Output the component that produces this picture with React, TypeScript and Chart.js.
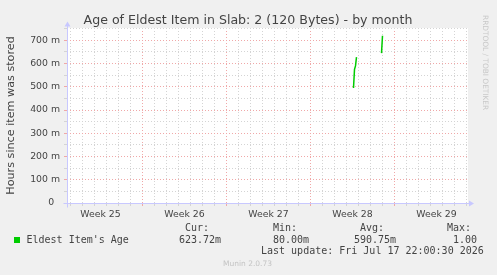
import React, { useEffect, useRef } from 'react';
import { Chart, registerables } from 'chart.js';

Chart.register(...registerables);

const TITLE = 'Age of Eldest Item in Slab: 2 (120 Bytes) - by month';
const Y_TITLE = 'Hours since item was stored';
const WEEK_LABELS = ['Week 25', 'Week 26', 'Week 27', 'Week 28', 'Week 29'];
const WEEK_LABEL_DAYS = [3.5, 10.5, 17.5, 24.5, 31.5];
const DAY_LINES = Array.from({ length: 34 }, (_, i) => i + 1);
const X_MIN = 0.708;
const X_MAX = 34.125;
const Y_MAX = 0.753;
const Y_TICKS = [0, 0.05, 0.1, 0.15, 0.2, 0.25, 0.3, 0.35, 0.4, 0.45, 0.5, 0.55, 0.6, 0.65, 0.7, 0.75];

// sample time in days (week 26 starts at day 7), value in hours
const SAMPLE_DAYS = [24.583, 24.667, 24.75, 24.833, 25.5, 26.917, 27.0];
const AGE_VALUES = [0.495, 0.575, 0.59, 0.628, null, 0.645, 0.72];

const SERIES_NAME = "Eldest Item's Age";
const STAT_HEADERS = ['Cur:', 'Min:', 'Avg:', 'Max:'];
const STAT_VALUES = ['623.72m', '80.00m', '590.75m', '1.00'];
const LAST_UPDATE = 'Last update: Fri Jul 17 22:00:30 2026';
const FOOTER = 'Munin 2.0.73';
const WATERMARK = 'RRDTOOL / TOBI OETIKER';

const GREEN = '#00cc00';
const MAJOR = '#f0a8a8';
const MINOR = '#d4d4d4';
const AXIS = '#c8c8ff';
const TEXT = '#444444';

function isMajorY(v: number) {
  return Math.abs(Math.round(v * 1000) % 100) < 1;
}

export default function App() {
  const ref = useRef<HTMLCanvasElement | null>(null);

  useEffect(() => {
    document.body.style.margin = '0';
    document.body.style.background = '#f0f0f0';
    const canvas = ref.current;
    if (!canvas) return;

    const decor = {
      id: 'decor',
      beforeDraw(chart: any) {
        const { ctx, chartArea } = chart;
        ctx.save();
        ctx.fillStyle = '#f0f0f0';
        ctx.fillRect(0, 0, chart.width, chart.height);
        ctx.fillStyle = '#ffffff';
        ctx.fillRect(chartArea.left, chartArea.top, chartArea.right - chartArea.left, chartArea.bottom - chartArea.top);
        ctx.restore();
      },
      afterDraw(chart: any) {
        const { ctx, chartArea } = chart;
        const L = chartArea.left + 0.5;
        const B = chartArea.bottom + 0.5;
        ctx.save();
        // axes
        ctx.strokeStyle = AXIS;
        ctx.fillStyle = AXIS;
        ctx.lineWidth = 1;
        ctx.beginPath();
        ctx.moveTo(L - 4, B);
        ctx.lineTo(chartArea.right + 2, B);
        ctx.moveTo(L, B + 4);
        ctx.lineTo(L, chartArea.top - 3);
        ctx.stroke();
        ctx.beginPath();
        ctx.moveTo(chartArea.right + 1, B - 3);
        ctx.lineTo(chartArea.right + 6, B);
        ctx.lineTo(chartArea.right + 1, B + 3);
        ctx.closePath();
        ctx.fill();
        ctx.beginPath();
        ctx.moveTo(L - 3, chartArea.top - 1.5);
        ctx.lineTo(L, chartArea.top - 6.5);
        ctx.lineTo(L + 3, chartArea.top - 1.5);
        ctx.closePath();
        ctx.fill();

        // title
        ctx.fillStyle = TEXT;
        ctx.font = '12.6px "DejaVu Sans"';
        ctx.textAlign = 'center';
        ctx.textBaseline = 'alphabetic';
        ctx.fillText(TITLE, 248, 23.5);

        // watermark
        ctx.save();
        ctx.translate(484.5, 15);
        ctx.rotate(Math.PI / 2);
        ctx.font = '7.4px "DejaVu Sans"';
        ctx.fillStyle = '#c8c8c8';
        ctx.textAlign = 'left';
        ctx.textBaseline = 'middle';
        ctx.fillText(WATERMARK, 0, 0);
        ctx.restore();

        // legend
        ctx.font = '10px "DejaVu Sans Mono"';
        ctx.textBaseline = 'middle';
        ctx.textAlign = 'left';
        ctx.fillStyle = GREEN;
        ctx.fillRect(14, 237, 6, 6);
        ctx.fillStyle = TEXT;
        ctx.fillText(SERIES_NAME, 26.5, 240);
        const headerX = [185, 273, 360, 447];
        const valueX = [179, 273, 354, 453];
        STAT_HEADERS.forEach((h, i) => ctx.fillText(h, headerX[i], 228));
        STAT_VALUES.forEach((v, i) => ctx.fillText(v, valueX[i], 240));
        ctx.fillText(LAST_UPDATE, 261, 251.5);

        // footer
        ctx.font = '7.5px "DejaVu Sans"';
        ctx.fillStyle = '#c4c4c4';
        ctx.textAlign = 'center';
        ctx.fillText(FOOTER, 247.5, 264.5);
        ctx.restore();
      },
    };

    const chart = new Chart(canvas, {
      type: 'line',
      data: {
        datasets: [
          {
            label: SERIES_NAME,
            data: SAMPLE_DAYS.map((d, i) => ({ x: d, y: AGE_VALUES[i] })),
            borderColor: GREEN,
            backgroundColor: GREEN,
            borderWidth: 1.5,
            pointRadius: 0,
            tension: 0,
            spanGaps: false,
          },
        ],
      },
      options: {
        animation: false,
        responsive: false,
        devicePixelRatio: 1,
        layout: { padding: { top: 28, right: 29, left: 0, bottom: 0 } },
        plugins: {
          legend: { display: false },
          title: { display: false },
          tooltip: { enabled: false },
        },
        scales: {
          x: {
            type: 'linear',
            min: X_MIN,
            max: X_MAX,
            afterBuildTicks: (scale: any) => {
              scale.ticks = [...DAY_LINES, ...WEEK_LABEL_DAYS]
                .sort((a, b) => a - b)
                .map((v) => ({ value: v }));
            },
            afterFit: (scale: any) => {
              scale.height = 72;
            },
            ticks: {
              autoSkip: false,
              maxRotation: 0,
              minRotation: 0,
              padding: 3,
              color: TEXT,
              font: { family: 'DejaVu Sans', size: 9.33 },
              callback: (value: any) => {
                const idx = WEEK_LABEL_DAYS.indexOf(Number(value));
                return idx >= 0 ? WEEK_LABELS[idx] : '';
              },
            },
            grid: {
              lineWidth: 1,
              tickLength: 3,
              color: (c: any) => {
                const v = c.tick ? c.tick.value : 0;
                if (!Number.isInteger(v)) return 'rgba(0,0,0,0)';
                return v % 7 === 0 ? MAJOR : MINOR;
              },
              tickColor: (c: any) => {
                const v = c.tick ? c.tick.value : 0;
                if (!Number.isInteger(v)) return 'rgba(0,0,0,0)';
                return v % 7 === 0 ? MAJOR : MINOR;
              },
            },
            border: { display: false, dash: [1, 2] },
          },
          y: {
            type: 'linear',
            min: 0,
            max: Y_MAX,
            afterBuildTicks: (scale: any) => {
              scale.ticks = Y_TICKS.map((v) => ({ value: v }));
            },
            afterFit: (scale: any) => {
              scale.width = 67;
            },
            ticks: {
              autoSkip: false,
              padding: 4,
              color: TEXT,
              font: { family: 'DejaVu Sans', size: 9.33 },
              callback: (value: any) => {
                const v = Number(value);
                if (!isMajorY(v)) return '';
                const m = Math.round(v * 1000);
                return m === 0 ? '0  ' : `${m} m`;
              },
            },
            grid: {
              lineWidth: 1,
              tickLength: 3,
              color: (c: any) => (c.tick && isMajorY(c.tick.value) ? MAJOR : MINOR),
              tickColor: (c: any) => (c.tick && isMajorY(c.tick.value) ? MAJOR : MINOR),
            },
            border: { display: false, dash: [1, 2] },
            title: {
              display: true,
              text: Y_TITLE,
              color: TEXT,
              font: { family: 'DejaVu Sans', size: 11.2 },
              padding: { top: 4, bottom: 0 },
            },
          },
        },
      },
      plugins: [decor],
    } as any);

    return () => chart.destroy();
  }, []);

  return (
    <div style={{ width: 497, height: 275 }}>
      <canvas ref={ref} width={497} height={275} style={{ display: 'block' }} />
    </div>
  );
}
